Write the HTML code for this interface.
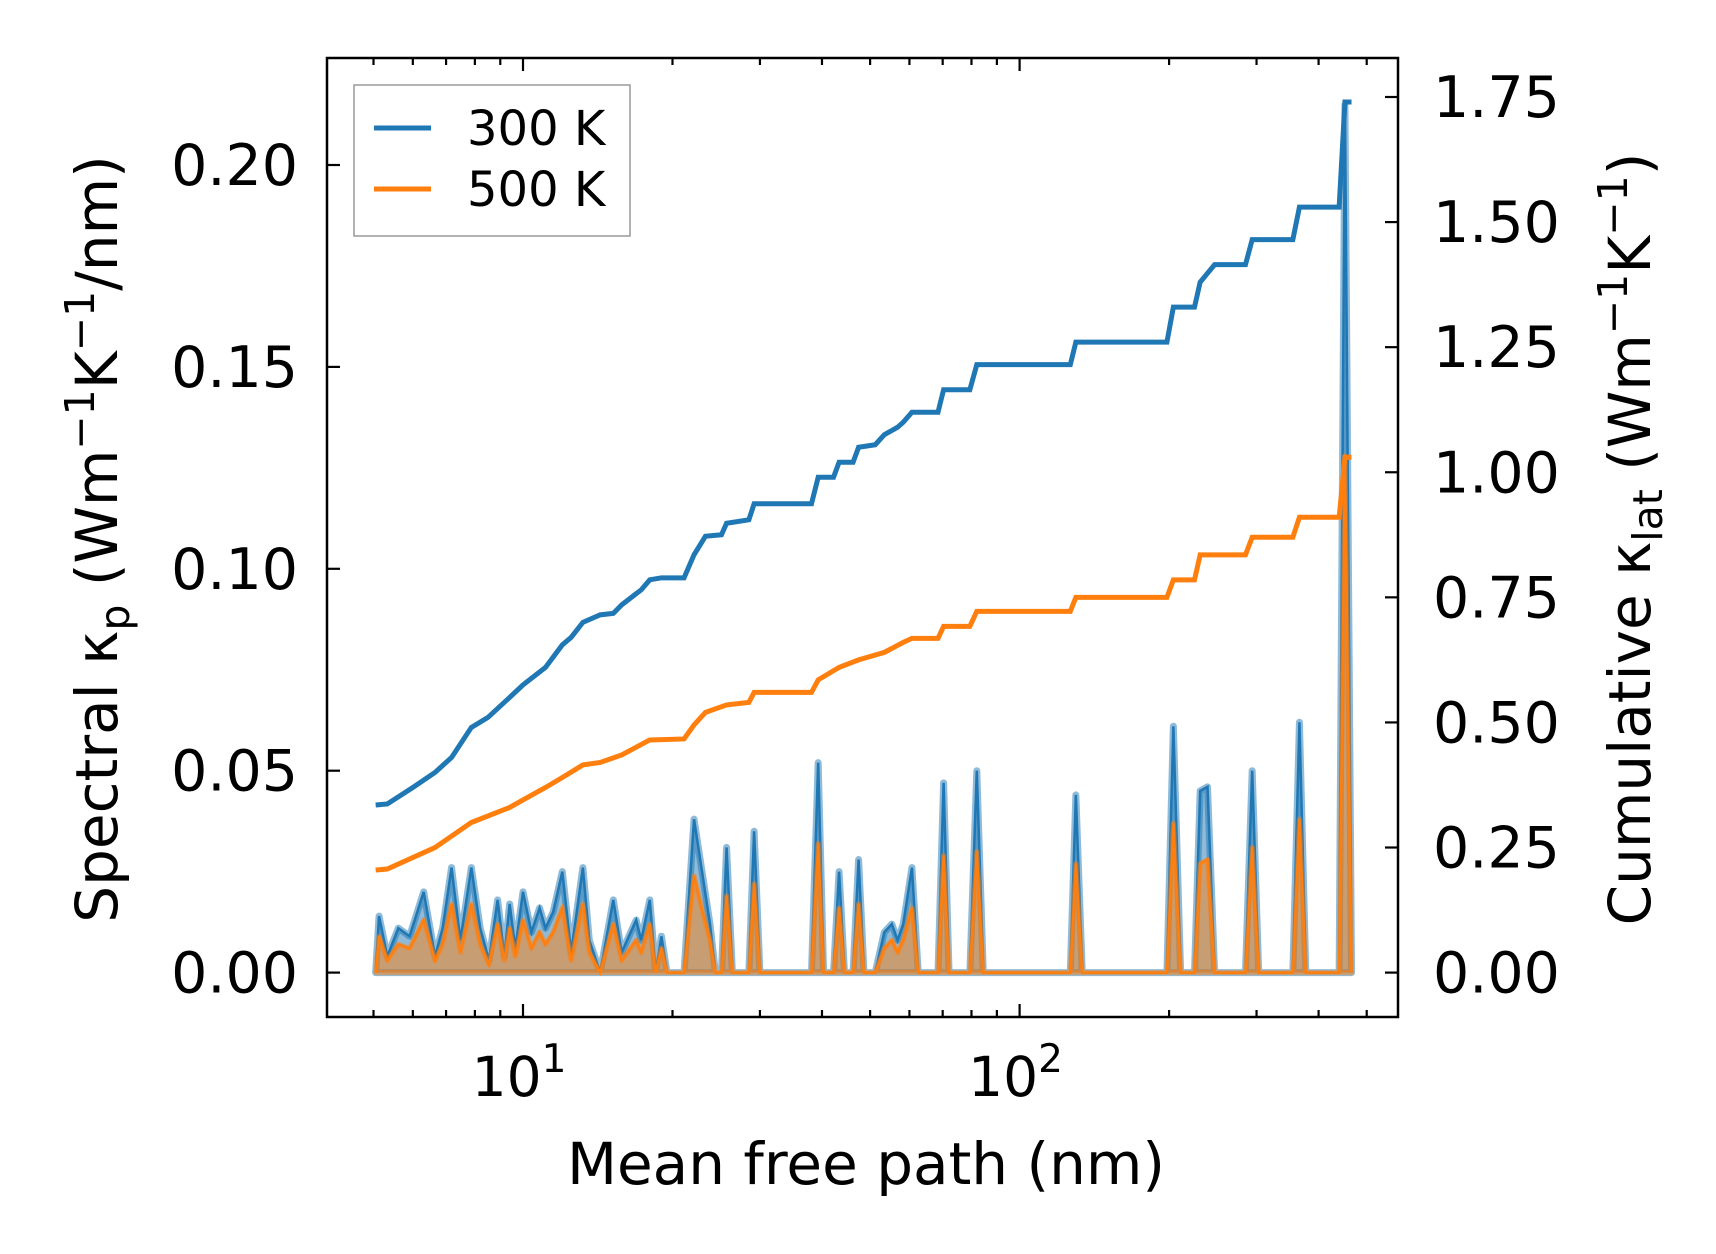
<!DOCTYPE html>
<html><head><meta charset="utf-8"><style>
html,body{margin:0;padding:0;background:#fff;}
svg{display:block;font-family:"DejaVu Sans","Liberation Sans",sans-serif;}
</style></head><body>
<svg id="chart" width="1716" height="1254" viewBox="0 0 1716 1254" style="position:absolute;left:0;top:0"></svg>
<script>
// ---- data ----
const specMfp = [5.05,5.13,5.33,5.61,5.91,6.31,6.65,6.89,7.18,7.48,7.87,8.20,8.54,8.89,9.17,9.40,9.65,10,10.4,10.8,11.1,11.5,12.0,12.5,13.2,13.6,14.3,15.2,15.8,16.9,17.3,18.0,18.5,19.0,19.5,21.1,22.1,23.0,23.8,24.4,25.1,25.7,26.4,28.5,29.2,30.0,38.1,39.3,40.3,42.2,43.3,44.4,46.2,47.4,48.6,51.2,53.4,55.3,56.8,58.3,60.7,62.5,68.5,70.3,72.1,79.4,82.0,84.5,126.5,129.8,133.7,198,204,211,225,231,239,247,285,294,303,355,366,377,440,452,466];
const spec300 = [0,0.014,0.004,0.011,0.009,0.020,0.004,0.011,0.026,0.008,0.026,0.011,0.003,0.018,0.004,0.017,0.006,0.020,0.010,0.016,0.011,0.015,0.025,0.005,0.026,0.008,0.000,0.018,0.005,0.013,0.008,0.018,0.000,0.009,0,0,0.038,0.024,0.012,0,0,0.031,0,0,0.035,0,0,0.052,0,0,0.025,0,0,0.028,0,0,0.010,0.012,0.008,0.012,0.026,0,0,0.047,0,0,0.050,0,0,0.044,0,0,0.061,0,0,0.045,0.046,0,0,0.050,0,0,0.062,0,0,0.215,0];
const spec500 = [0,0.009,0.003,0.007,0.006,0.013,0.003,0.007,0.017,0.005,0.017,0.007,0.002,0.012,0.003,0.011,0.004,0.013,0.006,0.010,0.007,0.010,0.016,0.003,0.017,0.005,0.000,0.012,0.003,0.008,0.005,0.012,0.000,0.006,0,0,0.024,0.015,0.008,0,0,0.019,0,0,0.022,0,0,0.032,0,0,0.016,0,0,0.017,0,0,0.006,0.008,0.005,0.008,0.016,0,0,0.029,0,0,0.030,0,0,0.027,0,0,0.037,0,0,0.027,0.028,0,0,0.031,0,0,0.038,0,0,0.128,0];
const cum300Mfp = [5.05,5.33,6.0,6.65,7.18,7.87,8.5,9.4,10,11.1,12.0,12.5,13.2,14.3,15.2,15.8,17.3,18.0,19.0,21.1,22.1,23.3,25.1,25.7,28.5,29.2,38.1,39.3,42.2,43.3,46.2,47.4,51.2,53.4,56.8,58.3,60.7,68.5,70.3,79.4,82.0,126.5,129.8,198,204,225,231,247,285,294,355,366,440,452,466];
const cum300 = [.335,.337,.37,.40,.43,.49,.51,.55,.575,.61,.655,.67,.70,.715,.718,.735,.765,.785,.789,.789,.835,.872,.875,.898,.905,.937,.937,.99,.99,1.02,1.02,1.05,1.055,1.075,1.09,1.10,1.12,1.12,1.165,1.165,1.215,1.215,1.26,1.26,1.33,1.33,1.38,1.415,1.415,1.465,1.465,1.53,1.53,1.74,1.74];
const cum500Mfp = [5.05,5.33,6.65,7.87,9.4,10,11.1,12.0,13.2,14.3,15.8,18.0,21.1,22.1,23.3,25.7,28.5,29.2,38.1,39.3,43.3,47.4,53.4,58.3,60.7,68.5,70.3,79.4,82.0,126.5,129.8,198,204,225,231,285,294,355,366,440,452,466];
const cum500 = [.205,.207,.25,.30,.33,.345,.37,.39,.415,.42,.435,.465,.467,.495,.52,.535,.54,.56,.56,.585,.61,.625,.64,.66,.668,.668,.692,.692,.722,.722,.75,.75,.785,.785,.835,.835,.87,.87,.91,.91,1.03,1.03];
const leftTicks = [0,0.05,0.10,0.15,0.20];
const leftLabels = ["0.00","0.05","0.10","0.15","0.20"];
const rightTicks = [0,0.25,0.5,0.75,1.0,1.25,1.5,1.75];
const rightLabels = ["0.00","0.25","0.50","0.75","1.00","1.25","1.50","1.75"];

// ---- axes ----
const L=327,R=1398,T=58,B=1017;
const X = v => 523 + (Math.log10(v)-1)*496.6;
const Y0 = 972.6;
const YL = v => Y0 - v/0.20*(Y0-165);
const YR = v => Y0 - v/1.75*(Y0-97);
const NS='http://www.w3.org/2000/svg';
const svg=document.getElementById('chart');
function mk(tag,attrs,parent){const e=document.createElementNS(NS,tag);for(const k in attrs)e.setAttribute(k,attrs[k]);(parent||svg).appendChild(e);return e;}

const clip=mk('clipPath',{id:'clip'});mk('rect',{x:L,y:T,width:R-L,height:B-T},clip);
const plot=mk('g',{'clip-path':'url(#clip)'});



function fillPath(xs,ys,yf){let d='M'+X(xs[0])+','+yf(0);xs.forEach((x,i)=>d+=' L'+X(x)+','+yf(ys[i]));d+=' L'+X(xs[xs.length-1])+','+yf(0)+'Z';return d;}
function linePath(xs,ys,yf){return xs.map((x,i)=>(i?'L':'M')+X(x)+','+yf(ys[i])).join(' ');}

const f3=mk('path',{d:fillPath(specMfp,spec300,YL),fill:'#1f77b4','fill-opacity':0.5,stroke:'#1f77b4','stroke-opacity':0.5,'stroke-width':7,'stroke-linejoin':'round'},plot);


const f3l=mk('path',{d:linePath(specMfp,spec300,YL),fill:'none',stroke:'#1f77b4','stroke-width':2.5},plot);


const f5=mk('path',{d:fillPath(specMfp,spec500,YL),fill:'#ff7f0e','fill-opacity':0.5,stroke:'#ff7f0e','stroke-opacity':0.5,'stroke-width':5,'stroke-linejoin':'round'},plot);


const f5l=mk('path',{d:linePath(specMfp,spec500,YL),fill:'none',stroke:'#ff7f0e','stroke-width':2.5},plot);


const c3=mk('path',{d:linePath(cum300Mfp,cum300,YR),fill:'none',stroke:'#1f77b4','stroke-width':5},plot);


const c5=mk('path',{d:linePath(cum500Mfp,cum500,YR),fill:'none',stroke:'#ff7f0e','stroke-width':5},plot);



const fr=mk('rect',{x:L,y:T,width:R-L,height:B-T,fill:'none',stroke:'#000','stroke-width':2.5});



for(let dec=0;dec<=2;dec++){for(let m=1;m<=9;m++){const v=m*Math.pow(10,dec);const x=X(v);if(x<L||x>R)continue;const len=m===1?13:7;
 mk('line',{x1:x,x2:x,y1:B,y2:B-len,stroke:'#000','stroke-width':2.2});
 mk('line',{x1:x,x2:x,y1:T,y2:T+len,stroke:'#000','stroke-width':2.2});}}
[[10,'1'],[100,'2']].forEach(([v,e])=>{const t=mk('text',{x:X(v)-4,y:1096,'font-size':55,'text-anchor':'middle'});t.innerHTML='10<tspan dy="-24" font-size="39">'+e+'</tspan>';
 
 });
leftTicks.forEach((v,i)=>{const y=YL(v);mk('line',{x1:L,x2:L+13,y1:y,y2:y,stroke:'#000','stroke-width':2.2});
 const t=mk('text',{x:298,y:y+20,'font-size':57,'text-anchor':'end'});t.textContent=leftLabels[i];
 
 });
rightTicks.forEach((v,i)=>{const y=YR(v);mk('line',{x1:R,x2:R-13,y1:y,y2:y,stroke:'#000','stroke-width':2.2});
 const t=mk('text',{x:1433,y:y+20,'font-size':57,'text-anchor':'start'});t.textContent=rightLabels[i];
 
 });
</script>
<svg width="1716" height="1254" style="position:absolute;left:0;top:0" font-family="DejaVu Sans, Liberation Sans, sans-serif">
 <text x="866" y="1184" font-size="58" text-anchor="middle">Mean free path (nm)</text>
 <text transform="translate(117,539) rotate(-90)" font-size="58" text-anchor="middle">Spectral κ<tspan font-size="41" dy="12">p</tspan><tspan dy="-12"> (Wm</tspan><tspan font-size="41" dy="-23">−1</tspan><tspan dy="23">K</tspan><tspan font-size="41" dy="-23">−1</tspan><tspan dy="23">/nm)</tspan></text>
 <text transform="translate(1650,539) rotate(-90)" font-size="58" text-anchor="middle">Cumulative κ<tspan font-size="41" dy="12">lat</tspan><tspan dy="-12"> (Wm</tspan><tspan font-size="41" dy="-23">−1</tspan><tspan dy="23">K</tspan><tspan font-size="41" dy="-23">−1</tspan><tspan dy="23">)</tspan></text>
 <g>
  <rect x="354" y="85" width="276" height="151" fill="#fff" fill-opacity="0.8" stroke="#999" stroke-width="1.5"/>
  <line x1="374" x2="431" y1="128" y2="128" stroke="#1f77b4" stroke-width="5"/>
  <text x="467" y="145" font-size="48">300 K</text>
  <line x1="374" x2="431" y1="189" y2="189" stroke="#ff7f0e" stroke-width="5"/>
  <text x="467" y="206" font-size="48">500 K</text>
 </g>
</svg>
</body></html>
